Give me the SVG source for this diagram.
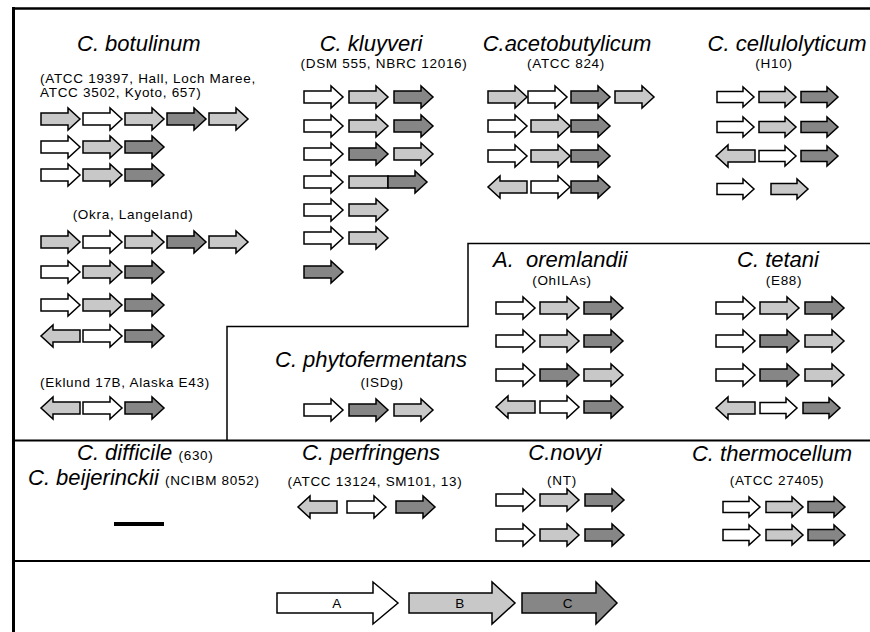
<svg xmlns="http://www.w3.org/2000/svg" xmlns:xlink="http://www.w3.org/1999/xlink" width="870" height="632" viewBox="0 0 870 632">
<style>
.w{fill:#ffffff}
.l{fill:#c8c8c8}
.d{fill:#868686}
.ar{stroke:#000;stroke-width:1.5;stroke-linejoin:miter}
.t{font-family:"Liberation Sans",Arial,sans-serif;font-style:italic;font-size:22px;fill:#000}
.s{font-family:"Liberation Sans",Arial,sans-serif;font-size:13.5px;letter-spacing:0.7px;fill:#000}
.m{text-anchor:middle}
.frame{fill:none;stroke:#000}
</style>
<defs>
<path id="r" class="ar" d="M0,-6 H27 V-11 L39,0 L27,11 V6 H0 Z"/>
<path id="lf" class="ar" d="M39,-6 H12 V-11 L0,0 L12,11 V6 H39 Z"/>
<path id="rs" class="ar" d="M0,-5.5 H26 V-10 L37,0 L26,10 V5.5 H0 Z"/>
</defs>
<rect width="870" height="632" fill="#fff"/>
<g id="frame">
<line class="frame" x1="12" y1="8.5" x2="870" y2="8.5" stroke-width="2.5"/>
<line class="frame" x1="13.5" y1="7" x2="13.5" y2="632" stroke-width="3"/>
<line class="frame" x1="13" y1="440.5" x2="870" y2="440.5" stroke-width="2"/>
<line class="frame" x1="13" y1="561" x2="870" y2="561" stroke-width="2"/>
<path class="frame" d="M227,440 V326.5 H468 V243.5 H870" stroke-width="1.5"/>
</g>
<g id="botulinum">
<text class="t" x="77" y="51">C. botulinum</text>
<text class="s" x="40" y="83">(ATCC 19397, Hall, Loch Maree,</text>
<text class="s" x="40" y="97">ATCC 3502, Kyoto, 657)</text>
<use href="#r" class="l" x="41" y="119"/><use href="#r" class="w" x="83" y="119"/><use href="#r" class="l" x="125" y="119"/><use href="#r" class="d" x="167" y="119"/><use href="#r" class="l" x="209" y="119"/>
<use href="#r" class="w" x="41" y="147"/><use href="#r" class="l" x="83" y="147"/><use href="#r" class="d" x="125" y="147"/>
<use href="#r" class="w" x="41" y="175"/><use href="#r" class="l" x="83" y="175"/><use href="#r" class="d" x="125" y="175"/>
<text class="s m" x="133" y="219">(Okra, Langeland)</text>
<use href="#r" class="l" x="41" y="242"/><use href="#r" class="w" x="83" y="242"/><use href="#r" class="l" x="125" y="242"/><use href="#r" class="d" x="167" y="242"/><use href="#r" class="l" x="209" y="242"/>
<use href="#r" class="w" x="41" y="272"/><use href="#r" class="l" x="83" y="272"/><use href="#r" class="d" x="125" y="272"/>
<use href="#r" class="w" x="41" y="305"/><use href="#r" class="l" x="83" y="305"/><use href="#r" class="d" x="125" y="305"/>
<use href="#lf" class="l" x="41" y="336"/><use href="#r" class="w" x="83" y="336"/><use href="#r" class="d" x="125" y="336"/>
<text class="s m" x="125" y="387">(Eklund 17B, Alaska E43)</text>
<use href="#lf" class="l" x="41" y="408"/><use href="#r" class="w" x="83" y="408"/><use href="#r" class="d" x="125" y="408"/>
</g>
<g id="kluyveri">
<text class="t m" x="371" y="51">C. kluyveri</text>
<text class="s m" x="384" y="68">(DSM 555, NBRC 12016)</text>
<use href="#r" class="w" x="304" y="97"/><use href="#r" class="l" x="349" y="97"/><use href="#r" class="d" x="394" y="97"/>
<use href="#r" class="w" x="304" y="126"/><use href="#r" class="l" x="349" y="126"/><use href="#r" class="d" x="394" y="126"/>
<use href="#r" class="w" x="304" y="154"/><use href="#r" class="d" x="349" y="154"/><use href="#r" class="l" x="394" y="154"/>
<use href="#r" class="w" x="304" y="182"/><rect class="l ar" x="349" y="176" width="39" height="12"/><use href="#r" class="d" x="388" y="182"/>
<use href="#r" class="w" x="304" y="210"/><use href="#r" class="l" x="349" y="210"/>
<use href="#r" class="w" x="304" y="238"/><use href="#r" class="l" x="349" y="238"/>
<use href="#r" class="d" x="304" y="272"/>
</g>
<g id="acetobutylicum">
<text class="t m" x="567" y="51">C.acetobutylicum</text>
<text class="s m" x="566" y="68">(ATCC 824)</text>
<use href="#r" class="l" x="488" y="97"/><use href="#r" class="w" x="528" y="97"/><use href="#r" class="d" x="571" y="97"/><use href="#r" class="l" x="615" y="97"/>
<use href="#r" class="w" x="488" y="126"/><use href="#r" class="l" x="531" y="126"/><use href="#r" class="d" x="571" y="126"/>
<use href="#r" class="w" x="488" y="156"/><use href="#r" class="l" x="531" y="156"/><use href="#r" class="d" x="571" y="156"/>
<use href="#lf" class="l" x="488" y="187"/><use href="#r" class="w" x="531" y="187"/><use href="#r" class="d" x="571" y="187"/>
</g>
<g id="cellulolyticum">
<text class="t m" x="787" y="51">C. cellulolyticum</text>
<text class="s m" x="774" y="68">(H10)</text>
<use href="#rs" class="w" x="717" y="97"/><use href="#rs" class="l" x="759" y="97"/><use href="#rs" class="d" x="801" y="97"/>
<use href="#rs" class="w" x="717" y="127"/><use href="#rs" class="l" x="759" y="127"/><use href="#rs" class="d" x="801" y="127"/>
<use href="#lf" class="l" x="716" y="156"/><use href="#rs" class="w" x="759" y="156"/><use href="#rs" class="d" x="801" y="156"/>
<use href="#rs" class="w" x="717" y="189"/><use href="#rs" class="l" x="771" y="189"/>
</g>
<g id="phytofermentans">
<text class="t m" x="371" y="367">C. phytofermentans</text>
<text class="s m" x="382" y="387">(ISDg)</text>
<use href="#r" class="w" x="304" y="410"/><use href="#r" class="d" x="349" y="410"/><use href="#r" class="l" x="394" y="410"/>
</g>
<g id="oremlandii">
<text class="t" x="493" y="267" xml:space="preserve">A.  oremlandii</text>
<text class="s m" x="562" y="285">(OhILAs)</text>
<use href="#r" class="w" x="496" y="308"/><use href="#r" class="l" x="540" y="308"/><use href="#r" class="d" x="584" y="308"/>
<use href="#r" class="w" x="496" y="341"/><use href="#r" class="l" x="540" y="341"/><use href="#r" class="d" x="584" y="341"/>
<use href="#r" class="w" x="496" y="375"/><use href="#r" class="d" x="540" y="375"/><use href="#r" class="l" x="584" y="375"/>
<use href="#lf" class="l" x="496" y="407"/><use href="#r" class="w" x="540" y="407"/><use href="#r" class="d" x="584" y="407"/>
</g>
<g id="tetani">
<text class="t m" x="778" y="267">C. tetani</text>
<text class="s m" x="784" y="285">(E88)</text>
<use href="#r" class="w" x="716" y="308"/><use href="#r" class="l" x="760" y="308"/><use href="#r" class="d" x="805" y="308"/>
<use href="#r" class="w" x="716" y="341"/><use href="#r" class="d" x="760" y="341"/><use href="#r" class="l" x="805" y="341"/>
<use href="#r" class="w" x="716" y="375"/><use href="#r" class="d" x="760" y="375"/><use href="#r" class="l" x="805" y="375"/>
<use href="#lf" class="l" x="716" y="408"/><use href="#rs" class="w" x="760" y="408"/><use href="#rs" class="d" x="803" y="408"/>
</g>
<g id="difficile-beijerinckii">
<text class="t" x="77" y="460">C. difficile <tspan class="s" font-style="normal">(630)</tspan></text>
<text class="t" x="28" y="485">C. beijerinckii <tspan class="s" font-style="normal">(NCIBM 8052)</tspan></text>
<rect x="114" y="522" width="50" height="4" fill="#000"/>
</g>
<g id="perfringens">
<text class="t m" x="371" y="460">C. perfringens</text>
<text class="s m" x="375" y="486">(ATCC 13124, SM101, 13)</text>
<use href="#lf" class="l" x="298" y="507"/><use href="#r" class="w" x="347" y="507"/><use href="#r" class="d" x="396" y="507"/>
</g>
<g id="novyi">
<text class="t m" x="565" y="460">C.novyi</text>
<text class="s m" x="562" y="485">(NT)</text>
<use href="#r" class="w" x="496" y="500"/><use href="#r" class="l" x="540" y="500"/><use href="#r" class="d" x="585" y="500"/>
<use href="#r" class="w" x="496" y="535"/><use href="#r" class="l" x="540" y="535"/><use href="#r" class="d" x="585" y="535"/>
</g>
<g id="thermocellum">
<text class="t m" x="772" y="461">C. thermocellum</text>
<text class="s m" x="777" y="485">(ATCC 27405)</text>
<use href="#rs" class="w" x="723" y="507"/><use href="#rs" class="l" x="766" y="507"/><use href="#rs" class="d" x="808" y="507"/>
<use href="#rs" class="w" x="723" y="535"/><use href="#rs" class="l" x="766" y="535"/><use href="#rs" class="d" x="808" y="535"/>
</g>
<g id="legend">
<path class="ar w" d="M277,593 H373 V582 L398,603 L373,624 V613 H277 Z"/>
<text class="s m" x="337" y="608">A</text>
<path class="ar l" d="M409,593 H492 V582 L515,603 L492,624 V613 H409 Z"/>
<text class="s m" x="460" y="608">B</text>
<path class="ar d" d="M522,593 H596 V582 L617,603 L596,624 V613 H522 Z"/>
<text class="s m" x="568" y="608" fill="#e8e8e8">C</text>
</g>
</svg>
